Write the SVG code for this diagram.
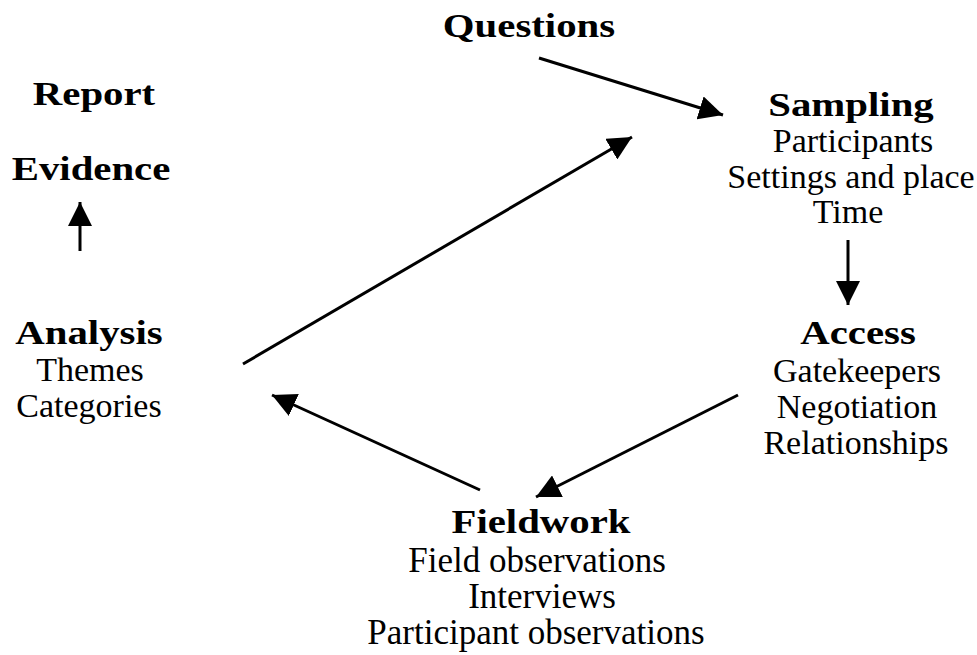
<svg xmlns="http://www.w3.org/2000/svg" width="977" height="655" viewBox="0 0 977 655">
<style>
text{font-family:"Liberation Serif","Times New Roman",serif;fill:#000;text-anchor:middle}
.t{font-weight:bold;font-size:34px}
.s{font-size:34px}
.f{font-size:35px}
.c{stroke:#000;stroke-width:3;fill:none}
</style>
<defs>
<marker id="ah" markerUnits="userSpaceOnUse" markerWidth="26" markerHeight="24" refX="24" refY="12" orient="auto">
<path d="M0,0 L24,12 L0,24 Z" fill="#000"/>
</marker>
</defs>
<rect width="977" height="655" fill="#fff"/>
<g id="questions"><text class="t" transform="translate(529,37) scale(1.2,1)">Questions</text></g>
<g id="report"><text class="t" transform="translate(94,105) scale(1.2,1)">Report</text></g>
<g id="evidence"><text class="t" transform="translate(91,180) scale(1.2,1)">Evidence</text></g>
<g id="sampling"><text class="t" transform="translate(851,116) scale(1.2,1)">Sampling</text>
<text class="s" x="853" y="152">Participants</text>
<text class="s" x="851" y="188">Settings and place</text>
<text class="s" x="848" y="223">Time</text></g>
<g id="access"><text class="t" transform="translate(858,344) scale(1.2,1)">Access</text>
<text class="s" x="857" y="382">Gatekeepers</text>
<text class="s" x="857" y="418">Negotiation</text>
<text class="s" x="856" y="454">Relationships</text></g>
<g id="analysis"><text class="t" transform="translate(89,344) scale(1.2,1)">Analysis</text>
<text class="s" x="90" y="381">Themes</text>
<text class="s" x="89" y="417">Categories</text></g>
<g id="fieldwork"><text class="t" transform="translate(541,533) scale(1.2,1)">Fieldwork</text>
<text class="f" x="537" y="572">Field observations</text>
<text class="f" x="542" y="608">Interviews</text>
<text class="f" x="536" y="644">Participant observations</text></g>
<g id="connectors">
<line class="c" x1="539" y1="58" x2="723" y2="115" marker-end="url(#ah)"/>
<line class="c" x1="243" y1="364" x2="632" y2="137" marker-end="url(#ah)"/>
<line class="c" x1="80" y1="251" x2="80" y2="202" marker-end="url(#ah)"/>
<line class="c" x1="848" y1="240" x2="848" y2="305" marker-end="url(#ah)"/>
<line class="c" x1="480" y1="490" x2="272" y2="395" marker-end="url(#ah)"/>
<line class="c" x1="738" y1="395" x2="536" y2="497" marker-end="url(#ah)"/>
</g>
</svg>
